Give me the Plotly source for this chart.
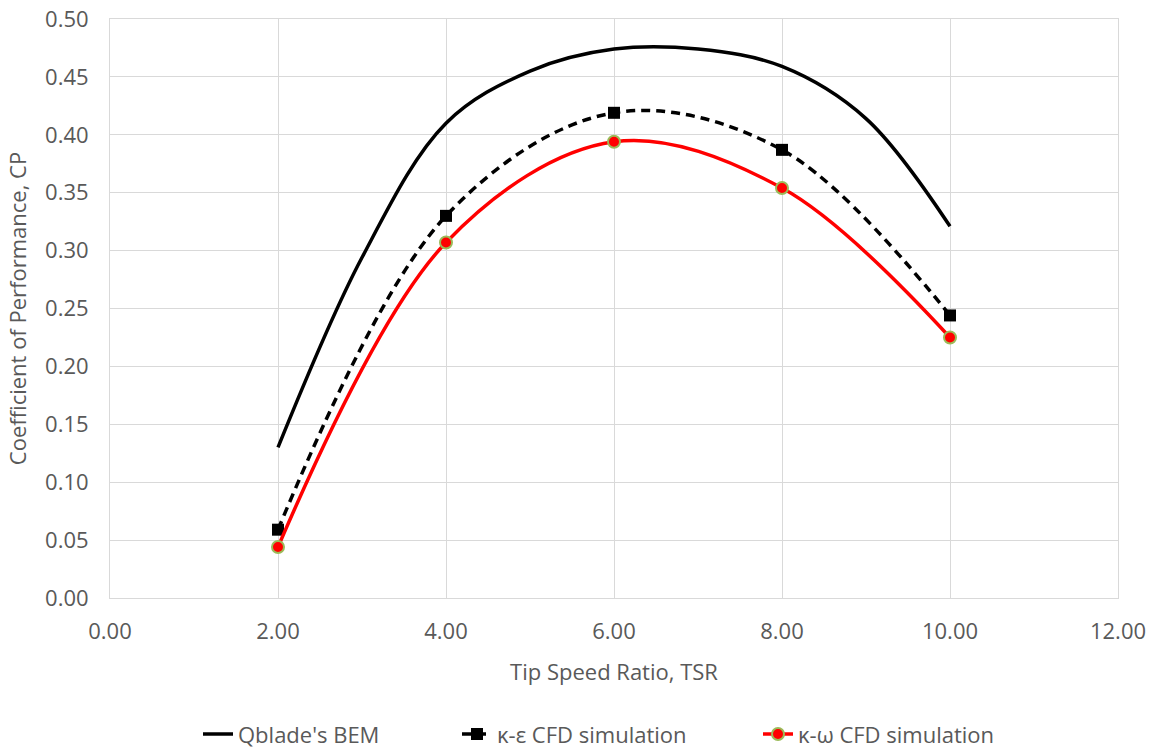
import plotly.graph_objects as go

# Data
tsr_bem = [2, 3, 4, 5, 6, 7, 8, 9, 10]
cp_bem = [0.130, 0.294, 0.410, 0.455, 0.474, 0.474, 0.459, 0.414, 0.321]

tsr_cfd = [2, 4, 6, 8, 10]
cp_ke = [0.059, 0.330, 0.419, 0.387, 0.244]
cp_kw = [0.044, 0.307, 0.394, 0.354, 0.225]

x_ticks = [0, 2, 4, 6, 8, 10, 12]

FONT = "Open Sans"
GRAY = "#595959"
GRID = "#D9D9D9"
FS = 22

fig = go.Figure()
fig.add_trace(go.Scatter(
    x=tsr_bem, y=cp_bem, mode="lines", name="Qblade's BEM", legend="legend",
    line=dict(color="black", width=3.5, shape="spline", smoothing=1.0),
))
fig.add_trace(go.Scatter(
    x=tsr_cfd, y=cp_ke, mode="lines+markers", name="κ-ε CFD simulation", legend="legend2",
    line=dict(color="black", width=3.5, dash="9px,6px", shape="spline", smoothing=1.0),
    marker=dict(symbol="square", size=12, color="black"),
))
fig.add_trace(go.Scatter(
    x=tsr_cfd, y=cp_kw, mode="lines+markers", name="κ-ω CFD simulation", legend="legend3",
    line=dict(color="#FF0000", width=3.5, shape="spline", smoothing=1.0),
    marker=dict(symbol="circle", size=12, color="#FF0000",
                line=dict(color="#9BBB59", width=2)),
))

def leg(xpix):
    return dict(orientation="h", xref="container", x=xpix / 1155, xanchor="left",
                yref="container", y=0.021, yanchor="middle",
                font=dict(family=FONT, size=FS, color=GRAY),
                bgcolor="rgba(0,0,0,0)")

fig.update_layout(
    width=1155, height=750,
    margin=dict(l=110, r=37, t=19, b=152),
    paper_bgcolor="white", plot_bgcolor="white",
    font=dict(family=FONT, size=FS, color=GRAY),
    showlegend=True,
    legend=leg(198), legend2=leg(457), legend3=leg(758),
)
fig.update_xaxes(
    range=[0, 12], tickvals=x_ticks, tickformat=".2f", automargin=False,
    showgrid=True, gridcolor=GRID, gridwidth=1,
    showline=True, linecolor=GRID, linewidth=1, mirror=True,
    zeroline=False, ticks="", ticklabelstandoff=14,
    tickfont=dict(family=FONT, size=FS, color=GRAY),
    title=dict(text="Tip Speed Ratio, TSR", standoff=20,
               font=dict(family=FONT, size=FS, color=GRAY)),
)
fig.update_yaxes(
    range=[0, 0.5], dtick=0.05, tickformat=".2f", automargin=False,
    showgrid=True, gridcolor=GRID, gridwidth=1,
    showline=True, linecolor=GRID, linewidth=1, mirror=True,
    zeroline=False, ticks="", ticklabelstandoff=16,
    tickfont=dict(family=FONT, size=FS, color=GRAY),
    title=dict(text="Coefficient of Performance, CP", standoff=12,
               font=dict(family=FONT, size=FS, color=GRAY)),
)

fig.write_html("out.html")
